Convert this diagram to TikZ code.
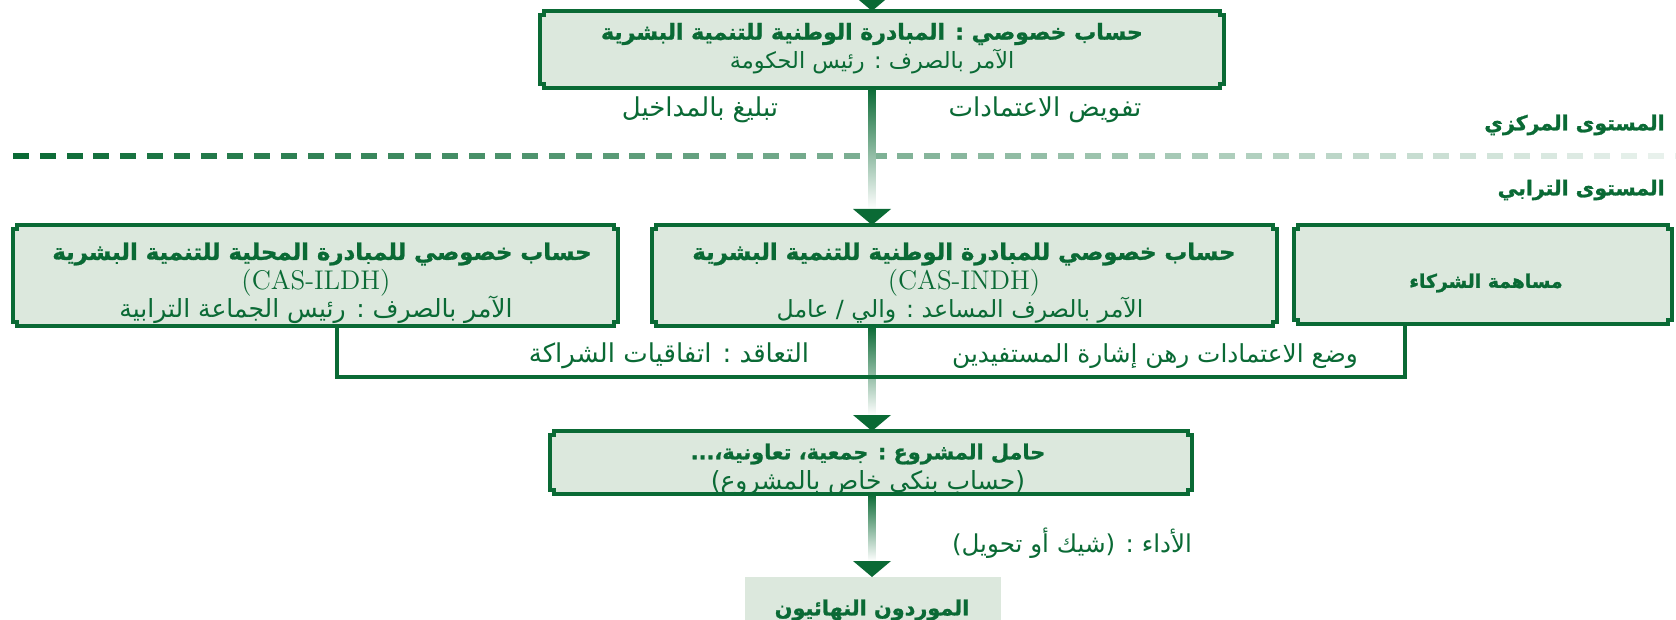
\documentclass[tikz,border=0pt]{standalone}
\usepackage{fontspec}
\newfontfamily\ar[Script=Arabic]{DejaVu Sans}
\newfontfamily\arb[Script=Arabic,FakeBold=1.2]{DejaVu Sans Bold}
\TeXXeTstate=1
\usetikzlibrary{backgrounds,calc}
\definecolor{dk}{RGB}{10,106,53}
\definecolor{lt}{RGB}{220,232,221}
\newcommand\AR[1]{\beginR #1\endR}
\newcommand\nbox[1]{%
  \path[frame] ([xshift=2pt]#1.north west) -- ([xshift=-2pt]#1.north east) -- ++(0pt,-2pt) -- ++(2pt,0pt)
   -- ([yshift=2pt]#1.south east) -- ++(-2pt,0pt) -- ++(0pt,-2pt) -- ([xshift=2pt]#1.south west)
   -- ++(0pt,2pt) -- ++(-2pt,0pt) -- ([yshift=-2pt]#1.north west) -- ++(2pt,0pt) -- cycle;}
\newcommand\gline[2]{%
  \shade[top color=dk, bottom color=white] ($(#1.south -| vx)+(-1.75pt,0pt)$) rectangle ($(#2.north -| vx)+(1.75pt,8pt)$);
  \fill[dk] ($(#2.north -| vx)+(-9.5pt,8pt)$) -- ($(#2.north -| vx)+(9.5pt,8pt)$) -- (#2.north -| vx) -- cycle;}
\begin{document}
\begin{tikzpicture}[x=0.5pt,y=-0.5pt,
  bx/.style 2 args={minimum width=#1*0.5pt, minimum height=#2*0.5pt, inner sep=0pt, outer sep=0pt},
  ttl/.style={text=dk, font=\arb\fontsize{#1}{12}\selectfont, inner sep=0pt},
  ttl/.default=11,
  reg/.style={text=dk, font=\ar\fontsize{#1}{14}\selectfont, inner sep=0pt},
  reg/.default=12,
  lat/.style={text=dk, font=\rmfamily\fontsize{13.5}{14}\selectfont, inner sep=0pt},
  frame/.style={draw=dk, fill=lt, line width=1.6pt},
  conn/.style={draw=dk, line width=2pt},
]
\useasboundingbox (0,0) rectangle (1676,620);
\coordinate (vx) at (872,0);
\coordinate (lx) at (337,0);
\coordinate (rx) at (1405,0);
\coordinate (hy) at (0,377);

% boxes (shapes)
\node[bx={684}{77}] (top) at (882,49.5) {};
\node[bx={605}{101}] (lbox) at (315.5,275.5) {};
\node[bx={625}{101}] (mid) at (964.5,275.5) {};
\node[bx={378}{99}] (rbox) at (1483,274.5) {};
\node[bx={642}{63}] (pp) at (871,462.5) {};
\node[bx={256}{70}, fill=lt] (fin) at (873,612) {};

\nbox{top}
\nbox{lbox}
\nbox{mid}
\nbox{rbox}
\nbox{pp}

% dashed separator
\foreach \i in {0,...,62} {
  \pgfmathsetmacro\f{100-92*\i/62}
  \fill[dk!\f!white] (13+26.8*\i,153) rectangle ++(16,6);
}

% top incoming arrow
\coordinate (topin) at (872,-5);
\fill[dk] ($(top.north -| vx)+(-9.5pt,8pt)$) -- ($(top.north -| vx)+(9.5pt,8pt)$) -- (top.north -| vx) -- cycle;

% gradient connectors
\gline{top}{mid}
\gline{mid}{pp}
\gline{pp}{fin}

% partner connector
\draw[conn] (lbox.south -| lx) -- (lx |- hy) -- (rx |- hy) -- (rbox.south -| rx);

% texts
\node[ttl] (t1) at (872,34) {\AR{حساب خصوصي : المبادرة الوطنية للتنمية البشرية}};
\node[reg=11.2] (t2) at (872,62) {\AR{الآمر بالصرف : رئيس الحكومة}};

\node[reg=13] (l1) at (700,110) {\AR{تبليغ بالمداخيل}};
\node[reg=13] (l2) at (1045,110) {\AR{تفويض الاعتمادات}};

\node[ttl=10.2, anchor=east] (lv1) at (1665,125) {\AR{المستوى المركزي}};
\node[ttl=10.2, anchor=east] (lv2) at (1665,190) {\AR{المستوى الترابي}};

\node[ttl=11.4] (lt1) at (322,254) {\AR{حساب خصوصي للمبادرة المحلية للتنمية البشرية}};
\node[lat] (lt2) at (316,283) {(CAS-ILDH)};
\node[reg=12.5] (lt3) at (316,310) {\AR{الآمر بالصرف : رئيس الجماعة الترابية}};

\node[ttl=11.4] (mt1) at (964,254) {\AR{حساب خصوصي للمبادرة الوطنية للتنمية البشرية}};
\node[lat] (mt2) at (964,283) {(CAS-INDH)};
\node[reg=11.8] (mt3) at (960,310) {\AR{الآمر بالصرف المساعد : والي / عامل}};

\node[ttl=9.4] (rt1) at (1486,283) {\AR{مساهمة الشركاء}};

\node[reg=13] (c1) at (669,356) {\AR{التعاقد : اتفاقيات الشراكة}};
\node[reg=12.4] (c2) at (1155,356) {\AR{وضع الاعتمادات رهن إشارة المستفيدين}};

\node[ttl=10.4] (p1) at (868,454) {\AR{حامل المشروع : جمعية، تعاونية،...}};
\node[reg=12.5] (p2) at (868,483) {\AR{(حساب بنكي خاص بالمشروع)}};

\node[reg=12.3] (pay) at (1072,543) {\AR{الأداء : (شيك أو تحويل)}};

\node[ttl=10.4] (f1) at (872,610) {\AR{الموردون النهائيون}};
\end{tikzpicture}
\end{document}
